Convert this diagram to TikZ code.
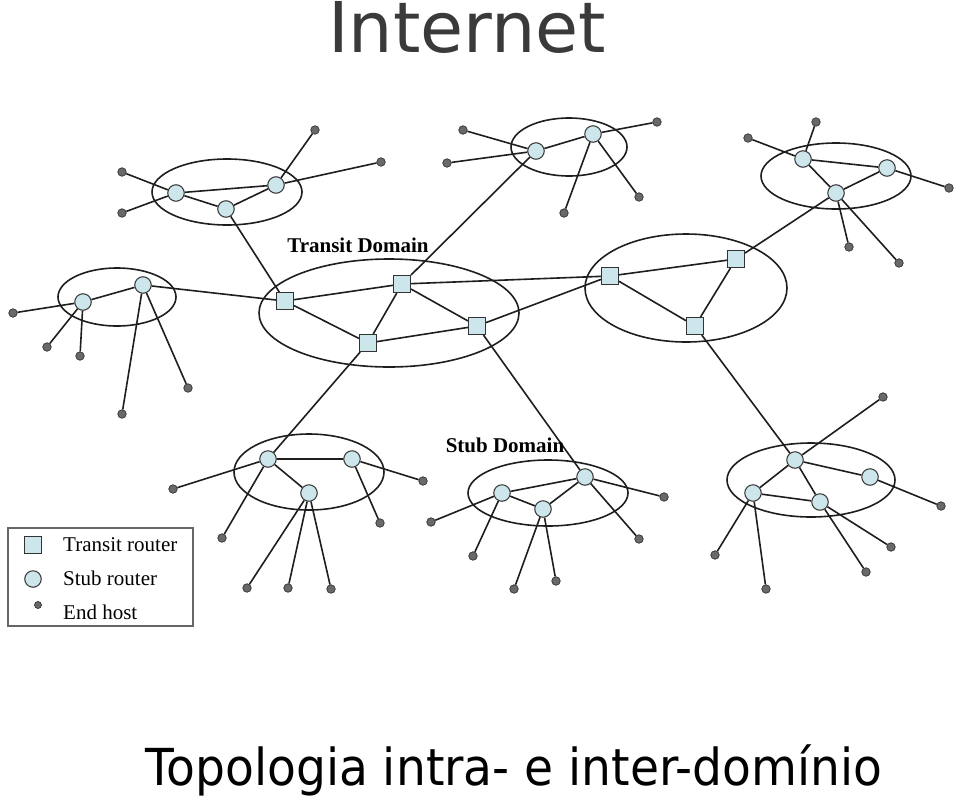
\documentclass[tikz,border=0pt]{standalone}
\usepackage{fontspec}
\setmainfont{Liberation Serif}
\newfontfamily\titlefont{DejaVu Sans}
\usepackage{graphicx}
\definecolor{rblue}{RGB}{205,230,236}
\definecolor{hostgray}{RGB}{105,105,105}
\definecolor{linec}{RGB}{30,30,30}
\definecolor{titlegray}{RGB}{58,58,58}
\begin{document}
\begin{tikzpicture}[x=1pt,y=-1pt,
  stub/.style={circle,draw=black!75,fill=rblue,line width=1.1pt,minimum size=16.5pt,inner sep=0pt},
  transit/.style={rectangle,draw=black!80,fill=rblue,line width=1.1pt,minimum size=17pt,inner sep=0pt},
  host/.style={circle,draw=black!80,fill=hostgray,line width=0.7pt,minimum size=8.5pt,inner sep=0pt},
  link/.style={draw=linec,line width=1.6pt},
  domainring/.style={draw=linec,line width=1.6pt},
  lbl/.style={font=\fontsize{21}{21}\selectfont\bfseries,inner sep=0pt},
  leg/.style={font=\fontsize{21}{21}\selectfont,anchor=west,inner sep=0pt}]
\useasboundingbox (0,0) rectangle (960,801);

% domains
\draw[domainring] (227,192) ellipse [x radius=75, y radius=33];
\draw[domainring] (569,147) ellipse [x radius=58, y radius=29];
\draw[domainring] (836,176) ellipse [x radius=75, y radius=33];
\draw[domainring] (117,297) ellipse [x radius=59, y radius=29];
\draw[domainring] (389,313) ellipse [x radius=130, y radius=54];
\draw[domainring] (686,288) ellipse [x radius=101, y radius=54];
\draw[domainring] (309,472) ellipse [x radius=75, y radius=38];
\draw[domainring] (548,493) ellipse [x radius=80, y radius=33];
\draw[domainring] (811,480) ellipse [x radius=84, y radius=37];

% transit routers
\node[transit] (t1) at (285,301) {};
\node[transit] (t2) at (402,284) {};
\node[transit] (t3) at (368,343) {};
\node[transit] (t4) at (477,326) {};
\node[transit] (r1) at (610,276) {};
\node[transit] (r2) at (736,259) {};
\node[transit] (r3) at (695,326) {};

% top-left stub
\node[stub] (a1) at (176,193) {};
\node[stub] (a2) at (226,209) {};
\node[stub] (a3) at (276,185) {};
\node[host] (ha1) at (122,172) {};
\node[host] (ha2) at (122,213) {};
\node[host] (ha3) at (315,130) {};
\node[host] (ha4) at (381,162) {};

% top-middle stub
\node[stub] (b1) at (536,151) {};
\node[stub] (b2) at (593,134) {};
\node[host] (hb1) at (463,130) {};
\node[host] (hb2) at (447,163) {};
\node[host] (hb3) at (657,122) {};
\node[host] (hb4) at (564,213) {};
\node[host] (hb5) at (639,197) {};

% top-right stub
\node[stub] (c1) at (803,159) {};
\node[stub] (c2) at (887,168) {};
\node[stub] (c3) at (836,193) {};
\node[host] (hc1) at (816,122) {};
\node[host] (hc2) at (748,138) {};
\node[host] (hc3) at (949,188) {};
\node[host] (hc4) at (849,247) {};
\node[host] (hc5) at (899,263) {};

% left stub
\node[stub] (d1) at (83,302) {};
\node[stub] (d2) at (143,285) {};
\node[host] (hd1) at (13,313) {};
\node[host] (hd2) at (47,347) {};
\node[host] (hd3) at (80,356) {};
\node[host] (hd4) at (122,414) {};
\node[host] (hd5) at (188,388) {};

% bottom-left stub
\node[stub] (f1) at (268,459) {};
\node[stub] (f2) at (352,459) {};
\node[stub] (f3) at (309,493) {};
\node[host] (hf1) at (173,489) {};
\node[host] (hf2) at (222,538) {};
\node[host] (hf3) at (423,481) {};
\node[host] (hf4) at (380,523) {};
\node[host] (hf5) at (247,588) {};
\node[host] (hf6) at (288,588) {};
\node[host] (hf7) at (331,589) {};

% bottom-middle stub
\node[stub] (e1) at (502,493) {};
\node[stub] (e2) at (543,509) {};
\node[stub] (e3) at (585,477) {};
\node[host] (he1) at (431,522) {};
\node[host] (he2) at (473,556) {};
\node[host] (he3) at (514,589) {};
\node[host] (he4) at (556,581) {};
\node[host] (he5) at (664,497) {};
\node[host] (he6) at (639,539) {};

% bottom-right stub
\node[stub] (g1) at (795,460) {};
\node[stub] (g2) at (870,477) {};
\node[stub] (g3) at (753,493) {};
\node[stub] (g4) at (820,502) {};
\node[host] (hg1) at (883,397) {};
\node[host] (hg2) at (941,506) {};
\node[host] (hg3) at (891,547) {};
\node[host] (hg4) at (866,572) {};
\node[host] (hg5) at (715,555) {};
\node[host] (hg6) at (766,589) {};

% links
\path[link] (a1)--(a3) (a1)--(a2) (a2)--(a3) (a1)--(ha1) (a1)--(ha2) (a3)--(ha3) (a3)--(ha4) (a2)--(t1);
\path[link] (b1)--(b2) (b1)--(hb1) (b1)--(hb2) (b2)--(hb3) (b2)--(hb4) (b2)--(hb5) (b1)--(t2);
\path[link] (c1)--(c2) (c1)--(c3) (c3)--(c2) (c1)--(hc1) (c1)--(hc2) (c2)--(hc3) (c3)--(hc4) (c3)--(hc5) (c3)--(r2);
\path[link] (d1)--(d2) (d1)--(hd1) (d1)--(hd2) (d1)--(hd3) (d2)--(hd4) (d2)--(hd5) (d2)--(t1);
\path[link] (t1)--(t2) (t1)--(t3) (t2)--(t3) (t2)--(t4) (t3)--(t4) (t2)--(r1) (t4)--(r1) (t3)--(f1) (t4)--(e3);
\path[link] (r1)--(r2) (r1)--(r3) (r2)--(r3) (r3)--(g1);
\path[link] (f1)--(f2) (f1)--(f3) (f1)--(hf1) (f1)--(hf2) (f2)--(hf3) (f2)--(hf4) (f3)--(hf5) (f3)--(hf6) (f3)--(hf7);
\path[link] (e1)--(e3) (e1)--(e2) (e2)--(e3) (e1)--(he1) (e1)--(he2) (e2)--(he3) (e2)--(he4) (e3)--(he5) (e3)--(he6);
\path[link] (g1)--(g2) (g1)--(g3) (g1)--(g4) (g3)--(g4) (g1)--(hg1) (g2)--(hg2) (g4)--(hg3) (g4)--(hg4) (g3)--(hg5) (g3)--(hg6);

% labels
\node[lbl] (tdlabel) at (358,245) {Transit Domain};
\node[lbl] (sdlabel) at (505,445) {Stub Domain};

% legend
\draw[draw=black!60,line width=1.6pt] (8,528) rectangle (193,626);
\node[transit] (legt) at (33,545) {};
\node[stub] (legs) at (33,579) {};
\node[host,minimum size=7pt] (legh) at (38,605) {};
\node[leg] (legtt) at (63,545) {Transit router};
\node[leg] (legst) at (63,578) {Stub router};
\node[leg] (leght) at (63,612) {End host};

% titles
\node[anchor=base,inner sep=0pt,text=titlegray,font=\titlefont\fontsize{70}{70}\selectfont] (title) at (467,52) {Internet};
\node[anchor=base,inner sep=0pt,text=black,font=\titlefont\fontsize{51}{51}\selectfont] (subtitle) at (514,785) {\scalebox{0.925}[1]{Topologia intra- e inter-domínio}};
\end{tikzpicture}
\end{document}
